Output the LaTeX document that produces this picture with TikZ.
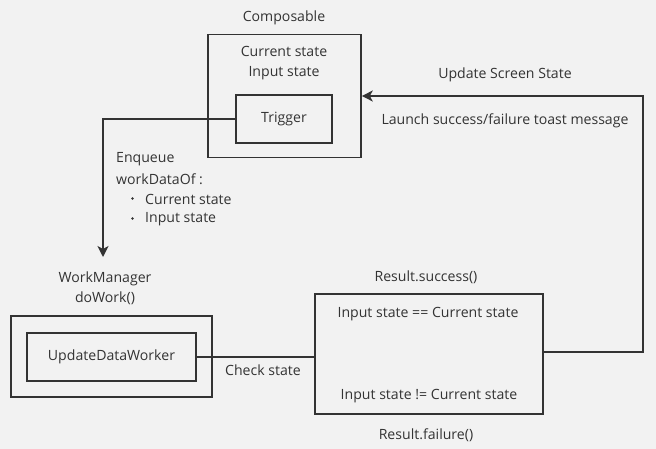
\documentclass[tikz,border=0pt]{standalone}
\usepackage{fontspec}
\setmainfont{Open Sans}
\usetikzlibrary{arrows.meta}
\definecolor{bgcol}{HTML}{F2F2F2}
\definecolor{inkcol}{HTML}{333333}
\tikzset{
  box/.style={draw=inkcol, line width=1.6pt, inner sep=0pt},
  lbl/.style={text=inkcol, font=\fontsize{14.1}{20}\selectfont, inner sep=0pt, align=center},
  wire/.style={draw=inkcol, line width=1.4pt},
  dotmark/.style={circle, fill=inkcol, minimum size=2.6pt, inner sep=0pt},
}
\begin{document}
\begin{tikzpicture}[x=1pt,y=-1pt]
    \fill[bgcol] (0,0) rectangle (656,449);
    \useasboundingbox (0,0) rectangle (656,449);
    % boxes
    \node[box, minimum width=153pt, minimum height=123pt] (comp) at (284.5,96) {};
    \node[box, minimum width=96pt, minimum height=48pt, lbl] (trig) at (284,119) {Trigger};
    \node[box, minimum width=201pt, minimum height=81pt] (mgr) at (111.5,356.5) {};
    \node[box, minimum width=169pt, minimum height=48pt, lbl] (upd) at (111.5,357) {UpdateDataWorker};
    \node[box, minimum width=228pt, minimum height=120pt] (res) at (429,354) {};
    % labels
    \node[lbl] (compname) at (284,17.5) {Composable};
    \node[lbl] (states) at (284,63.5) {Current state\\Input state};
    \node[lbl] (mgrname) at (105,288.5) {WorkManager\\doWork()};
    \node[lbl, anchor=west] (enq) at (116,159.5) {Enqueue};
    \node[lbl, anchor=west] (wdo) at (116,179.5) {workDataOf :};
    \foreach \y/\t in {198/Current state, 218/Input state} {
        \node[dotmark] (dot\y) at (132.5,\y+0.5) {};
        \node[lbl, anchor=west] (item\y) at (145,\y+1.5) {\t};
    }
    \node[lbl] (chk) at (263,370.5) {Check state};
    \node[lbl] (ok) at (426,277.5) {Result.success()};
    \node[lbl] (fail) at (426,435.5) {Result.failure()};
    \node[lbl] (eq) at (428,314.5) {Input state == Current state};
    \node[lbl] (neq) at (429,396.5) {Input state != Current state};
    \node[lbl] (upscr) at (505,74.5) {Update Screen State};
    \node[lbl] (toast) at (505,120.5) {Launch success/failure toast message};
    % connectors
    \coordinate (drop) at (103,257);
    \coordinate (turn) at (643,352);
    \draw[wire, -{Stealth[length=11pt, width=11pt, inset=3pt]}] (trig.west) -| (drop);
    \draw[wire] (upd.east) -- (upd.east -| res.west);
    \draw[wire, -{Stealth[length=11pt, width=11pt, inset=3pt]}] (res.east |- turn) -- (turn) |- (comp.east);
\end{tikzpicture}
\end{document}
